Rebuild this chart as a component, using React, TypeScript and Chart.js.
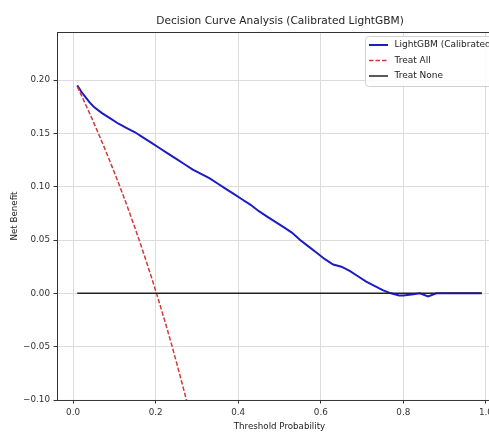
import { useEffect, useRef } from 'react';
import { Chart, registerables } from 'chart.js';

Chart.register(...registerables);

const chartTitle = 'Decision Curve Analysis (Calibrated LightGBM)';
const xAxisLabel = 'Threshold Probability';
const yAxisLabel = 'Net Benefit';
const seriesNames = ['LightGBM (Calibrated)', 'Treat All', 'Treat None'];

const modelThresholds = [
  0.01, 0.02, 0.03, 0.04, 0.05, 0.07, 0.09, 0.11, 0.13, 0.15, 0.17, 0.19, 0.21, 0.23, 0.25,
  0.27, 0.29, 0.31, 0.33, 0.35, 0.37, 0.39, 0.41, 0.43, 0.45, 0.47, 0.49, 0.51, 0.53, 0.55,
  0.57, 0.59, 0.61, 0.63, 0.65, 0.67, 0.69, 0.71, 0.73, 0.75, 0.77, 0.79, 0.8, 0.82, 0.84,
  0.86, 0.88, 0.9, 0.95, 0.99,
];
const modelNetBenefit = [
  0.195, 0.189, 0.184, 0.179, 0.175, 0.169, 0.164, 0.159, 0.155, 0.151, 0.146, 0.141, 0.136,
  0.131, 0.126, 0.121, 0.116, 0.112, 0.108, 0.103, 0.098, 0.093, 0.088, 0.083, 0.077, 0.072,
  0.067, 0.062, 0.057, 0.05, 0.044, 0.038, 0.032, 0.027, 0.025, 0.021, 0.016, 0.011, 0.007,
  0.003, 0.0, -0.002, -0.002, -0.001, 0.0, -0.003, 0.0, 0.0, 0.0, 0.0,
];

const treatAllThresholds = [
  0.01, 0.02, 0.03, 0.04, 0.05, 0.06, 0.07, 0.08, 0.09, 0.1, 0.11, 0.12, 0.13, 0.14, 0.15,
  0.16, 0.17, 0.18, 0.19, 0.2, 0.21, 0.22, 0.23, 0.24, 0.25, 0.26, 0.27, 0.28, 0.29,
];
const treatAllNetBenefit = [
  0.1939, 0.1857, 0.1773, 0.1688, 0.16, 0.1511, 0.1419, 0.1326, 0.1231, 0.1133, 0.1034,
  0.0932, 0.0828, 0.0721, 0.0612, 0.05, 0.0386, 0.0268, 0.0148, 0.0025, -0.0101, -0.0231,
  -0.0364, -0.05, -0.064, -0.0784, -0.0932, -0.1083, -0.1239,
];

const treatNoneThresholds = [0.01, 0.99];
const treatNoneNetBenefit = [0, 0];

const xTicks = [0, 0.2, 0.4, 0.6, 0.8, 1.0];
const xTickLabels = ['0.0', '0.2', '0.4', '0.6', '0.8', '1.0'];
const yTicks = [-0.1, -0.05, 0, 0.05, 0.1, 0.15, 0.2];
const yTickLabels = ['\u22120.10', '\u22120.05', '0.00', '0.05', '0.10', '0.15', '0.20'];

const FONT = 'DejaVu Sans';

export default function App() {
  const ref = useRef<HTMLCanvasElement | null>(null);

  useEffect(() => {
    if (!ref.current) return;
    const toPts = (xs: number[], ys: number[]) => xs.map((x, i) => ({ x, y: ys[i] }));
    const colors = ['#1c1cc4', '#d03a3a', '#222222'];
    const widths = [2, 1.5, 1.5];
    const dashes: number[][] = [[], [4.5, 2], []];

    const framePlugin = {
      id: 'frame',
      afterDraw(chart: any) {
        const { ctx, chartArea: a } = chart;
        ctx.save();
        ctx.strokeStyle = '#333333';
        ctx.lineWidth = 1;
        ctx.strokeRect(Math.round(a.left) + 0.5, Math.round(a.top) + 0.5, a.right - a.left, a.bottom - a.top);
        // legend
        const bx = 365.5, by = 36.5, bw = 150, bh = 50;
        ctx.fillStyle = 'rgba(255,255,255,0.85)';
        ctx.strokeStyle = '#d0d0d0';
        ctx.beginPath();
        (ctx as any).roundRect(bx, by, bw, bh, 3);
        ctx.fill();
        ctx.stroke();
        const rows = [45, 60.5, 76];
        ctx.font = `9px "${FONT}"`;
        ctx.textBaseline = 'middle';
        ctx.textAlign = 'left';
        seriesNames.forEach((name, i) => {
          ctx.beginPath();
          ctx.strokeStyle = colors[i];
          ctx.lineWidth = widths[i];
          ctx.setLineDash(dashes[i]);
          ctx.moveTo(369, rows[i]);
          ctx.lineTo(388, rows[i]);
          ctx.stroke();
          ctx.setLineDash([]);
          ctx.fillStyle = '#222222';
          ctx.fillText(name, 394.5, rows[i]);
        });
        ctx.restore();
      },
    };

    const chart = new Chart(ref.current, {
      type: 'line',
      data: {
        datasets: [
          {
            label: seriesNames[0],
            data: toPts(modelThresholds, modelNetBenefit),
            borderColor: colors[0],
            borderWidth: widths[0],
            pointRadius: 0,
            tension: 0,
            order: 2,
            clip: 0,
          },
          {
            label: seriesNames[1],
            data: toPts(treatAllThresholds, treatAllNetBenefit),
            borderColor: colors[1],
            borderWidth: widths[1],
            borderDash: dashes[1],
            pointRadius: 0,
            tension: 0,
            order: 1,
            clip: 0,
          },
          {
            label: seriesNames[2],
            data: toPts(treatNoneThresholds, treatNoneNetBenefit),
            borderColor: colors[2],
            borderWidth: widths[2],
            pointRadius: 0,
            tension: 0,
            order: 0,
            clip: 0,
          },
        ],
      },
      options: {
        responsive: false,
        animation: false,
        devicePixelRatio: 1,
        layout: { padding: 0 },
        plugins: {
          legend: { display: false },
          tooltip: { enabled: false },
          title: {
            display: true,
            text: chartTitle,
            color: '#222222',
            font: { family: FONT, size: 10.6, weight: 'normal', lineHeight: 1.2 },
            padding: { top: 14.6, bottom: 4.7 },
          },
        },
        scales: {
          x: {
            type: 'linear',
            min: -0.039,
            max: 1.039,
            afterBuildTicks: (s: any) => {
              s.ticks = xTicks.map((v) => ({ value: v }));
            },
            afterFit: (s: any) => {
              s.height = 32;
            },
            border: { display: false },
            grid: { color: '#dcdcdc', lineWidth: 1, tickColor: '#333333', tickLength: 3.5 },
            ticks: {
              color: '#333333',
              padding: 4,
              font: { family: FONT, size: 8.8 },
              maxRotation: 0,
              autoSkip: false,
              callback: (v: any) => {
                const i = xTicks.findIndex((t) => Math.abs(t - Number(v)) < 1e-9);
                return i >= 0 ? xTickLabels[i] : '';
              },
            },
            title: {
              display: true,
              text: xAxisLabel,
              color: '#222222',
              font: { family: FONT, size: 8.7, lineHeight: 1.2 },
              padding: { top: 0, bottom: 0.5 },
            },
          },
          y: {
            type: 'linear',
            min: -0.1,
            max: 0.245,
            afterBuildTicks: (s: any) => {
              s.ticks = yTicks.map((v) => ({ value: v }));
            },
            afterFit: (s: any) => {
              s.width = 57;
            },
            border: { display: false },
            grid: { color: '#dcdcdc', lineWidth: 1, tickColor: '#333333', tickLength: 3.5 },
            ticks: {
              color: '#333333',
              padding: 3.5,
              font: { family: FONT, size: 8.8 },
              autoSkip: false,
              callback: (v: any) => {
                const i = yTicks.findIndex((t) => Math.abs(t - Number(v)) < 1e-9);
                return i >= 0 ? yTickLabels[i] : '';
              },
            },
            title: {
              display: true,
              text: yAxisLabel,
              color: '#222222',
              font: { family: FONT, size: 8.7, lineHeight: 1.2 },
              padding: { top: 9.5, bottom: 0 },
            },
          },
          yRight: {
            type: 'linear',
            position: 'right',
            min: -0.1,
            max: 0.245,
            afterFit: (s: any) => {
              s.width = 58;
            },
            border: { display: false },
            grid: { display: false, drawTicks: false },
            ticks: { display: false },
            title: { display: false },
          },
        },
      },
      plugins: [framePlugin],
    });
    return () => chart.destroy();
  }, []);

  return (
    <div
      style={{
        position: 'fixed',
        left: 0,
        top: 0,
        width: 489,
        height: 432,
        overflow: 'hidden',
        background: '#ffffff',
      }}
    >
      <canvas ref={ref} width={560} height={432} style={{ display: 'block' }} />
    </div>
  );
}
